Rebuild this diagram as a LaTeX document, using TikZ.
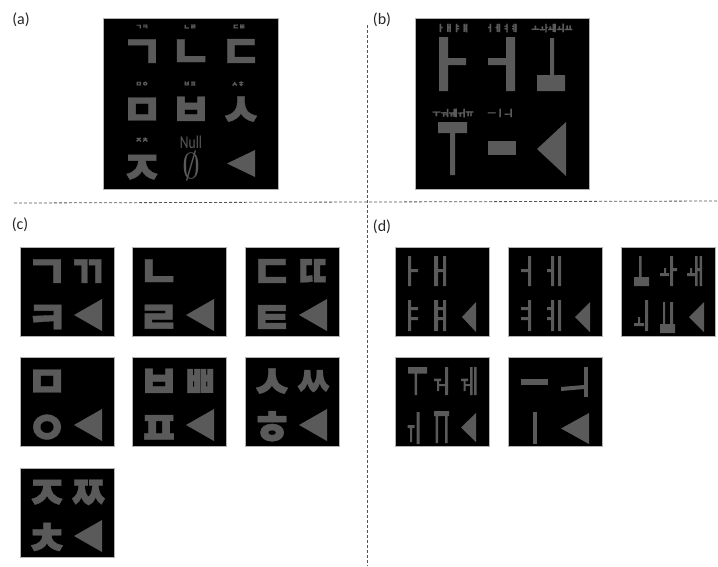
\documentclass[tikz,border=0pt]{standalone}
\usepackage{fontspec}
\usepackage{graphicx}
\setmainfont{Carlito}
\newfontfamily\kr{Noto Sans CJK KR}[BoldFeatures={FakeBold=0.8}]
\definecolor{jg}{RGB}{90,90,90}
\definecolor{dl}{RGB}{85,85,85}
\newcommand\gl[1]{\makebox[0.64em]{\raisebox{-0.15em}[0.6em][0pt]{#1}}}
\newcommand\glc[1]{\makebox[0.56em]{\raisebox{-0.15em}[0.6em][0pt]{\scalebox{0.8}[1]{#1}}}}
\tikzset{
  panel/.style={fill=black, draw=black!30, line width=0.6pt},
  glyph/.style={text=jg, font=\kr\bfseries\fontsize{46}{46}\selectfont, inner sep=0pt, anchor=center},
  tinylab/.style={text=jg, font=\kr\bfseries\fontsize{7}{7}\selectfont, inner sep=0pt},
  vlab/.style={text=jg, font=\kr\bfseries\fontsize{9}{9}\selectfont, inner sep=0pt},
  plabel/.style={font=\fontsize{16}{16}\selectfont, inner sep=0pt, text=black!85},
  sepline/.style={draw=dl, dash pattern=on 3pt off 2pt, line width=0.8pt},
}
\newcommand\trig[4]{\fill[jg] (#2,#3) -- (#2,#4) -- (#1,{(#3+#4)/2}) -- cycle;}
\newcommand\cpanel[6]{%
  \begin{scope}[shift={(#2,#3)}]
    \draw[panel] (0,0) rectangle (94,89);
    \node[glyph] (#1tl) at (27,21) {\gl{#4}};
    \node[glyph] (#1tr) at (68,21) {\glc{#5}};
    \node[glyph] (#1bl) at (27,67) {\gl{#6}};
    \trig{54}{82}{52}{84}
  \end{scope}}
\begin{document}
\begin{tikzpicture}[x=1pt,y=-1pt]
\useasboundingbox (0,0) rectangle (718,566);
% separators
\draw[sepline] (14,203) -- (718,201);
\draw[sepline] (367,25) -- (367,566);
% panel labels
\node[plabel] (pa) at (21,20) {(a)};
\node[plabel] (pb) at (382,20) {(b)};
\node[plabel] (pc) at (20,225) {(c)};
\node[plabel] (pd) at (382,227) {(d)};
% ---------- (a)
\draw[panel] (103,18) rectangle (278,189);
\node[tinylab] (la1) at (142,27) {ㄱㅋ};
\node[tinylab] (la2) at (190,27) {ㄴㄹ};
\node[tinylab] (la3) at (239,27) {ㄷㅌ};
\node[tinylab] (la4) at (142,84) {ㅁㅇ};
\node[tinylab] (la5) at (190,84) {ㅂㅍ};
\node[tinylab] (la6) at (238,84) {ㅅㅎ};
\node[tinylab] (la7) at (142,140) {ㅈㅊ};
\node[text=jg, font=\fontsize{18}{18}\selectfont, inner sep=0pt] (null) at (191,142) {\scalebox{0.75}[1]{Null}};
\node[glyph] (ga1) at (142,48) {\gl{ㄱ}};
\node[glyph] (ga2) at (191,48) {\gl{ㄴ}};
\node[glyph] (ga3) at (241,48) {\gl{ㄷ}};
\node[glyph] (ga4) at (142,106) {\gl{ㅁ}};
\node[glyph] (ga5) at (191,106) {\gl{ㅂ}};
\node[glyph] (ga6) at (241,106) {\gl{ㅅ}};
\node[glyph] (ga7) at (142,164) {\gl{ㅈ}};
\node[text=jg, inner sep=0pt] (gnull) at (191,166) {\scalebox{3.6}{$\emptyset$}};
\trig{227}{255}{150}{177}
% ---------- (b)
\draw[panel] (415,18) rectangle (589,189);
\node[vlab] (lb1) at (453,28) {ㅏㅐㅑㅒ};
\node[vlab] (lb2) at (502,28) {ㅓㅔㅕㅖ};
\node[vlab] (lb3) at (552,28) {ㅗㅘㅙㅚㅛ};
\node[vlab] (lb4) at (453,113) {ㅜㅝㅞㅟㅠ};
\node[vlab] (lb5) at (500,113) {ㅡㅣㅢ};
\fill[jg] (439,37) rectangle (448,91) (448,58) rectangle (466,65);
\fill[jg] (506,37) rectangle (515,91) (488,58) rectangle (506,65);
\fill[jg] (550,38) rectangle (554,75) (537,75) rectangle (565,91);
\fill[jg] (438,122) rectangle (467,133) (450,133) rectangle (455,175);
\fill[jg] (488,141) rectangle (516,155);
\trig{537}{566}{122}{176}
% ---------- (c)
\cpanel{c1}{20}{247}{ㄱ}{ㄲ}{ㅋ}
\cpanel{c2}{132}{247}{ㄴ}{}{ㄹ}
\cpanel{c3}{245}{247}{ㄷ}{ㄸ}{ㅌ}
\cpanel{c4}{20}{357}{ㅁ}{}{ㅇ}
\cpanel{c5}{132}{357}{ㅂ}{ㅃ}{ㅍ}
\cpanel{c6}{245}{357}{ㅅ}{ㅆ}{ㅎ}
\cpanel{c7}{20}{468}{ㅈ}{ㅉ}{ㅊ}
% ---------- (d)
\begin{scope}[shift={(395,247)}]
  \draw[panel] (0,0) rectangle (94,89);
  \fill[jg] (13,9) rectangle (16,39) (16,22) rectangle (23,25);
  \fill[jg] (39,9) rectangle (43,39) (48,9) rectangle (51,39) (43,22) rectangle (48,25);
  \fill[jg] (13,53) rectangle (16,84) (16,60) rectangle (23,63) (16,70) rectangle (23,73);
  \fill[jg] (39,53) rectangle (43,84) (48,53) rectangle (51,84) (43,60) rectangle (48,63) (43,70) rectangle (48,73);
  \trig{67}{81}{55}{85}
\end{scope}
\begin{scope}[shift={(508,247)}]
  \draw[panel] (0,0) rectangle (94,89);
  \fill[jg] (13,22) rectangle (20,25) (20,9) rectangle (23,39);
  \fill[jg] (39,22) rectangle (43,25) (43,9) rectangle (46,39) (50,9) rectangle (53,39);
  \fill[jg] (13,60) rectangle (20,63) (13,70) rectangle (20,73) (20,53) rectangle (23,84);
  \fill[jg] (39,60) rectangle (43,63) (39,70) rectangle (43,73) (43,53) rectangle (46,84) (50,53) rectangle (53,84);
  \trig{67}{82}{55}{85}
\end{scope}
\begin{scope}[shift={(621,247)}]
  \draw[panel] (0,0) rectangle (94,89);
  \fill[jg] (18,9) rectangle (20.5,30) (13,30) rectangle (28,39);
  \fill[jg] (43,21) rectangle (45,26) (39,26) rectangle (48,29) (49,9) rectangle (52,39) (52,21) rectangle (56,24);
  \fill[jg] (69,21) rectangle (71,26) (66,26) rectangle (74,29) (74,9) rectangle (76.5,39) (78.5,9) rectangle (81,39) (76.5,21) rectangle (78.5,24);
  \fill[jg] (17,70) rectangle (19,76) (13,76) rectangle (23,79) (24,53) rectangle (27,84);
  \fill[jg] (39,77) rectangle (54,86) (42,55) rectangle (44,77) (49,55) rectangle (52,77);
  \trig{68}{83}{55}{85}
\end{scope}
\begin{scope}[shift={(395,357)}]
  \draw[panel] (0,0) rectangle (94,89);
  \fill[jg] (13,10) rectangle (32,16.5) (19.5,16.5) rectangle (22,38);
  \fill[jg] (39,21.5) rectangle (46,24) (42,24) rectangle (44,34) (44,27) rectangle (50,29) (50,10) rectangle (53,38);
  \fill[jg] (66,21.5) rectangle (73,24) (68.5,24) rectangle (70.5,34) (70.5,27) rectangle (75,29) (75,10) rectangle (77.5,38) (79,10) rectangle (81.5,38);
  \fill[jg] (12.7,68) rectangle (19.5,71) (15,71) rectangle (17,85) (21.5,55) rectangle (24.5,87);
  \fill[jg] (39,54) rectangle (54,59) (40.5,59) rectangle (43,86) (50,59) rectangle (52.5,86);
  \trig{66}{81}{56}{85}
\end{scope}
\begin{scope}[shift={(508,357)}]
  \draw[panel] (0,0) rectangle (94,89);
  \fill[jg] (13.3,21.5) rectangle (40,28.3);
  \fill[jg] (53,30) -- (76,28) -- (76,32) -- (53,34) -- cycle;
  \fill[jg] (76,10) rectangle (80,40);
  \fill[jg] (24.5,55) rectangle (29,87);
  \trig{53}{81}{56}{87}
\end{scope}
\end{tikzpicture}
\end{document}
